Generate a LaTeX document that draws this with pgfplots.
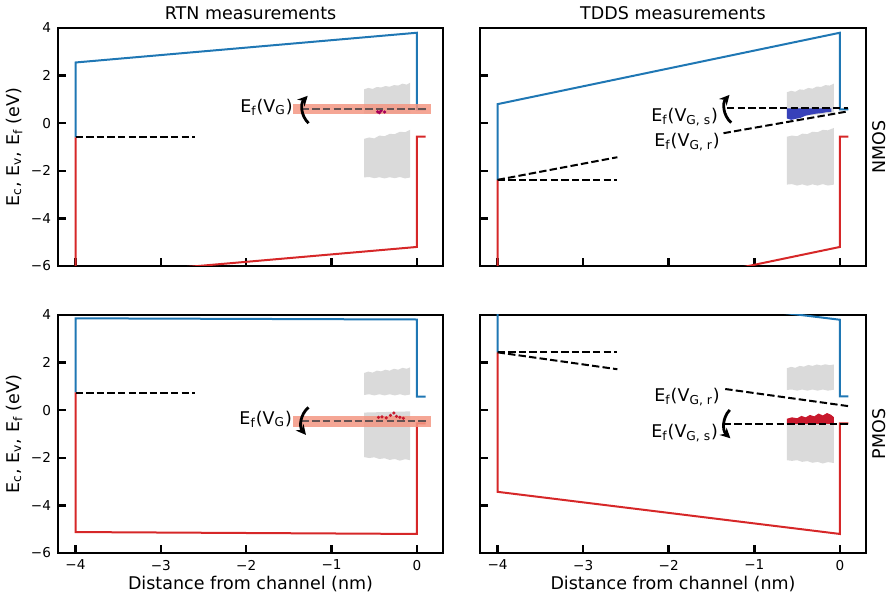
\documentclass[border=0pt]{standalone}
\usepackage{pgfplots}
\pgfplotsset{compat=1.18}
\usepackage{fontspec}
\setmainfont{DejaVu Sans}
\usetikzlibrary{arrows.meta}
\definecolor{tabblue}{RGB}{31,119,180}
\definecolor{tabred}{RGB}{214,39,40}
\definecolor{bandc}{RGB}{243,150,130}
\definecolor{cloud}{RGB}{218,218,218}
\definecolor{dkblue}{RGB}{55,65,185}
\definecolor{dkred}{RGB}{200,25,45}
\definecolor{inband}{RGB}{100,82,82}
\newcommand{\lblfont}{\fontsize{8.75pt}{10pt}\selectfont}
\newcommand{\tkfont}{\fontsize{6.8pt}{8pt}\selectfont}
\tikzset{
  arr/.style={line width=1.4pt, -{Stealth[length=5pt,width=5pt]}},
  ann/.style={anchor=east, font=\lblfont, inner sep=0pt},
  side/.style={xshift=6.5pt, rotate=90, anchor=center, font=\lblfont, inner sep=0pt},
}
\pgfplotsset{
  every axis title/.style={at={(0.5,1)}, anchor=center, yshift=7.5pt, font=\lblfont},
  panel/.style={scale only axis, anchor=south west, height=119pt,
    xmin=-4.205, xmax=0.305, ymin=-6, ymax=4,
    axis line style={line width=1.35pt},
    every tick/.style={line width=1.25pt, black},
    major tick length=3.75pt, tick align=inside,
    xtick={-4,-3,-2,-1,0}, ytick={-6,-4,-2,0,2,4},
    xtick pos=bottom, ytick pos=left,
    tick label style={font=\tkfont},
    label style={font=\lblfont},
    clip mode=individual},
  ec/.style={tabblue, line width=1pt, mark=none},
  ev/.style={tabred, line width=1pt, mark=none},
  fd/.style={black, line width=1pt, dash pattern=on 3.7pt off 1.6pt, mark=none},
  cl/.style={fill=cloud, draw=none, mark=none},
}
\begin{document}
\begin{tikzpicture}
\useasboundingbox (0,0) rectangle (443.5pt,298.5pt);
% ---------------- NMOS RTN
\begin{axis}[panel, width=192.5pt, at={(29pt,165.5pt)},
  xticklabels={}, yticklabels={−6,−4,−2,0,2,4},
  title={RTN measurements},
  ylabel={E\textsubscript{c}, E\textsubscript{v}, E\textsubscript{f} (eV)},
  ylabel style={at={(axis description cs:-0.114,0.5)}, anchor=center}]
\addplot[cl] coordinates {(-0.62,0.40) (-0.62,1.42) (-0.57,1.48) (-0.52,1.44) (-0.47,1.52) (-0.42,1.50) (-0.37,1.56) (-0.32,1.53) (-0.27,1.60) (-0.22,1.58) (-0.17,1.66) (-0.12,1.62) (-0.08,1.70) (-0.08,0.40)} -- cycle;
\addplot[cl] coordinates {(-0.62,-2.28) (-0.62,-0.66) (-0.56,-0.60) (-0.50,-0.64) (-0.44,-0.52) (-0.38,-0.55) (-0.32,-0.45) (-0.26,-0.46) (-0.20,-0.36) (-0.14,-0.38) (-0.08,-0.28) (-0.08,-2.28) (-0.14,-2.32) (-0.20,-2.26) (-0.26,-2.31) (-0.32,-2.27) (-0.38,-2.32) (-0.44,-2.27) (-0.50,-2.31) (-0.56,-2.26)} -- cycle;
\addplot[ec] coordinates {(-4,-0.6) (-4,2.55) (0,3.8) (0,0.58) (0.1,0.58)};
\addplot[ev] coordinates {(-4,-0.6) (-4,-6.45) (0,-5.2) (0,-0.57) (0.1,-0.57)};
\addplot[fd] coordinates {(-4,-0.6) (-2.6,-0.6)};
\addplot[fill=bandc, draw=none, fill opacity=0.85, mark=none] coordinates {(-1.45,0.37) (0.165,0.37) (0.165,0.81) (-1.45,0.81)} -- cycle;
\addplot[only marks, mark=*, mark size=0.6pt, color=violet!70!red] coordinates {(-0.46,0.48) (-0.42,0.52) (-0.38,0.47) (-0.44,0.44)};
\addplot[fd, color=inband] coordinates {(-1.35,0.58) (0.1,0.58)};
\node[ann] at (axis cs:-1.45,0.68) {E\textsubscript{f}(V\textsubscript{G})};
\draw[arr] (axis cs:-1.27,0.0) to[bend left=45] (axis cs:-1.28,1.15);
\end{axis}
% ---------------- NMOS TDDS
\begin{axis}[panel, width=193pt, at={(240pt,165.5pt)},
  xticklabels={}, yticklabels={},
  title={TDDS measurements}]
\addplot[cl] coordinates {(-0.62,0.20) (-0.62,1.30) (-0.57,1.36) (-0.52,1.32) (-0.47,1.42) (-0.42,1.40) (-0.37,1.48) (-0.32,1.45) (-0.27,1.54) (-0.22,1.52) (-0.17,1.60) (-0.12,1.58) (-0.07,1.66) (-0.07,0.45)} -- cycle;
\addplot[cl] coordinates {(-0.62,-2.58) (-0.62,-0.57) (-0.56,-0.52) (-0.50,-0.55) (-0.44,-0.44) (-0.38,-0.46) (-0.32,-0.36) (-0.26,-0.38) (-0.20,-0.28) (-0.14,-0.30) (-0.07,-0.20) (-0.07,-2.58) (-0.14,-2.62) (-0.20,-2.56) (-0.26,-2.62) (-0.32,-2.57) (-0.38,-2.63) (-0.44,-2.57) (-0.50,-2.62) (-0.56,-2.56)} -- cycle;
\addplot[fill=dkblue, draw=none, mark=none] coordinates {(-0.62,0.62) (-0.1,0.62) (-0.1,0.48) (-0.16,0.46) (-0.22,0.42) (-0.28,0.40) (-0.34,0.36) (-0.40,0.32) (-0.46,0.22) (-0.52,0.18) (-0.57,0.14) (-0.62,0.20)} -- cycle;
\addplot[ec] coordinates {(-4,-2.38) (-4,0.8) (0,3.8) (0,0.58) (0.1,0.58)};
\addplot[ev] coordinates {(-4,-2.38) (-4,-8.2) (0,-5.2) (0,-0.57) (0.1,-0.57)};
\addplot[fd] coordinates {(-4,-2.38) (-2.6,-2.38)};
\addplot[fd] coordinates {(-4,-2.38) (-2.6,-1.43)};
\addplot[fd] coordinates {(-1.32,0.63) (0.1,0.63)};
\addplot[fd] coordinates {(-1.36,-0.42) (0.1,0.5)};
\node[ann] at (axis cs:-1.42,0.27) {E\textsubscript{f}(V\textsubscript{G, s})};
\node[ann] at (axis cs:-1.40,-0.78) {E\textsubscript{f}(V\textsubscript{G, r})};
\draw[arr] (axis cs:-1.27,0.02) to[bend left=45] (axis cs:-1.29,1.19);
\node[side] at (rel axis cs:1,0.5) {NMOS};
\end{axis}
% ---------------- PMOS RTN
\begin{axis}[panel, width=192.5pt, at={(29pt,22pt)},
  xticklabels={−4,−3,−2,−1,0}, yticklabels={−6,−4,−2,0,2,4},
  xlabel={Distance from channel (nm)},
  xlabel style={at={(axis description cs:0.5,0)}, anchor=center, yshift=-15.5pt},
  ylabel={E\textsubscript{c}, E\textsubscript{v}, E\textsubscript{f} (eV)},
  ylabel style={at={(axis description cs:-0.114,0.5)}, anchor=center}]
\addplot[cl] coordinates {(-0.62,0.64) (-0.62,1.56) (-0.57,1.62) (-0.52,1.58) (-0.47,1.66) (-0.42,1.63) (-0.37,1.70) (-0.32,1.66) (-0.27,1.74) (-0.22,1.70) (-0.17,1.78) (-0.12,1.74) (-0.08,1.80) (-0.08,0.66) (-0.14,0.62) (-0.20,0.67) (-0.26,0.62) (-0.32,0.67) (-0.38,0.62) (-0.44,0.67) (-0.50,0.62) (-0.56,0.67)} -- cycle;
\addplot[cl] coordinates {(-0.62,-1.97) (-0.62,-0.10) (-0.08,-0.05) (-0.08,-2.10) (-0.14,-2.06) (-0.20,-2.12) (-0.26,-2.05) (-0.32,-2.09) (-0.38,-2.02) (-0.44,-2.05) (-0.50,-1.98) (-0.56,-2.01)} -- cycle;
\addplot[ec] coordinates {(-4,0.75) (-4,3.86) (0,3.81) (0,0.57) (0.1,0.57)};
\addplot[ev] coordinates {(-4,0.75) (-4,-5.12) (0,-5.2) (0,-0.55) (0.1,-0.55)};
\addplot[fd] coordinates {(-4,0.73) (-2.6,0.73)};
\addplot[fill=bandc, draw=none, fill opacity=0.85, mark=none] coordinates {(-1.45,-0.69) (0.165,-0.69) (0.165,-0.24) (-1.45,-0.24)} -- cycle;
\addplot[only marks, mark=*, mark size=0.6pt, color=dkred] coordinates {(-0.45,-0.30) (-0.41,-0.28) (-0.36,-0.32) (-0.31,-0.22) (-0.27,-0.12) (-0.24,-0.26) (-0.20,-0.30) (-0.16,-0.34)};
\addplot[fd, color=inband] coordinates {(-1.35,-0.45) (0.1,-0.45)};
\node[ann] at (axis cs:-1.46,-0.37) {E\textsubscript{f}(V\textsubscript{G})};
\draw[arr] (axis cs:-1.27,0.12) to[bend right=45] (axis cs:-1.30,-1.04);
\end{axis}
% ---------------- PMOS TDDS
\begin{axis}[panel, width=193pt, at={(240pt,22pt)},
  xticklabels={−4,−3,−2,−1,0}, yticklabels={},
  xlabel={Distance from channel (nm)},
  xlabel style={at={(axis description cs:0.5,0)}, anchor=center, yshift=-15.5pt}]
\addplot[cl] coordinates {(-0.62,0.85) (-0.62,1.76) (-0.57,1.82) (-0.52,1.78) (-0.47,1.86) (-0.42,1.83) (-0.37,1.90) (-0.32,1.86) (-0.27,1.92) (-0.22,1.88) (-0.17,1.93) (-0.12,1.89) (-0.07,1.92) (-0.07,0.86) (-0.14,0.82) (-0.20,0.87) (-0.26,0.82) (-0.32,0.87) (-0.38,0.82) (-0.44,0.87) (-0.50,0.82) (-0.56,0.87)} -- cycle;
\addplot[cl] coordinates {(-0.62,-2.10) (-0.62,-0.55) (-0.07,-0.55) (-0.07,-2.22) (-0.14,-2.18) (-0.20,-2.24) (-0.26,-2.17) (-0.32,-2.21) (-0.38,-2.14) (-0.44,-2.17) (-0.50,-2.10) (-0.56,-2.13)} -- cycle;
\addplot[fill=dkred, draw=none, mark=none] coordinates {(-0.62,-0.58) (-0.62,-0.36) (-0.56,-0.30) (-0.50,-0.34) (-0.45,-0.24) (-0.40,-0.30) (-0.35,-0.20) (-0.30,-0.26) (-0.25,-0.14) (-0.20,-0.22) (-0.15,-0.12) (-0.10,-0.20) (-0.07,-0.30) (-0.07,-0.58)} -- cycle;
\addplot[ec] coordinates {(-4,2.43) (-4,5.55) (0,3.8) (0,0.58) (0.1,0.58)};
\addplot[ev] coordinates {(-4,2.43) (-4,-3.43) (0,-5.2) (0,-0.55) (0.1,-0.55)};
\addplot[fd] coordinates {(-4,2.43) (-2.6,2.43)};
\addplot[fd] coordinates {(-4,2.43) (-2.6,1.72)};
\addplot[fd] coordinates {(-1.34,0.89) (0.1,0.17)};
\addplot[fd] coordinates {(-1.36,-0.6) (0.1,-0.6)};
\node[ann] at (axis cs:-1.40,0.54) {E\textsubscript{f}(V\textsubscript{G, r})};
\node[ann] at (axis cs:-1.42,-0.95) {E\textsubscript{f}(V\textsubscript{G, s})};
\draw[arr] (axis cs:-1.287,0.01) to[bend right=45] (axis cs:-1.28,-1.18);
\node[side] at (rel axis cs:1,0.5) {PMOS};
\end{axis}
\end{tikzpicture}
\end{document}
